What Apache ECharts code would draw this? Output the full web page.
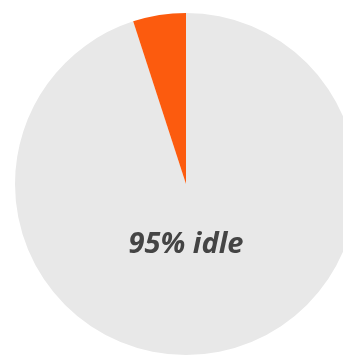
<!DOCTYPE html>
<html>
<head>
<meta charset="utf-8">
<script src="https://cdn.jsdelivr.net/npm/echarts@6/dist/echarts.min.js"></script>
<style>html,body{margin:0;padding:0;background:#fff}#c{width:343px;height:356px}</style>
</head>
<body>
<div id="c"></div>
<script>
const categories = ['idle', 'busy'];
const values = [95, 5];
const colors = ['#e8e8e8', '#fc5b0e'];
const labelText = '95% idle';

const chart = echarts.init(document.getElementById('c'), null, {renderer: 'canvas'});
chart.setOption({
  animation: false,
  title: {
    text: labelText,
    left: 186,
    textAlign: 'center',
    top: 230,
    padding: 0,
    textStyle: {
      fontFamily: 'Open Sans',
      fontStyle: 'italic',
      fontWeight: 'bold',
      fontSize: 29,
      color: '#444444'
    }
  },
  series: [{
    type: 'pie',
    z: 1,
    center: [186, 184],
    radius: 171,
    startAngle: 90,
    clockwise: true,
    label: {show: false},
    labelLine: {show: false},
    emphasis: {disabled: true},
    data: categories.map((c, i) => ({name: c, value: values[i], itemStyle: {color: colors[i]}}))
  }]
});
</script>
</body>
</html>
